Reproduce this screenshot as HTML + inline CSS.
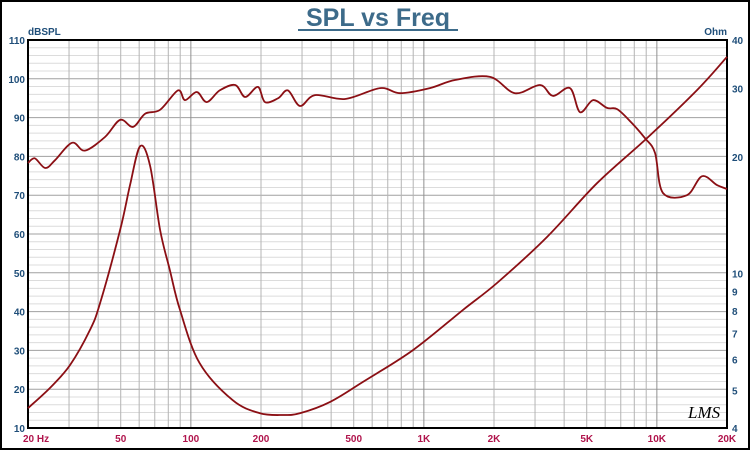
<!DOCTYPE html>
<html><head><meta charset="utf-8"><style>
html,body{margin:0;padding:0;background:#fff}
svg{display:block;font-family:"Liberation Sans",Arial,sans-serif}
</style></head><body>
<svg id="chart" width="750" height="450" viewBox="0 0 750 450">
<rect x="1" y="1" width="748" height="448" fill="#fff" stroke="#000" stroke-width="2"/>
<text x="378" y="26" text-anchor="middle" font-size="25" font-weight="bold" fill="#3d6b8a">SPL vs Freq</text>
<line x1="298" y1="30" x2="458" y2="30" stroke="#3d6b8a" stroke-width="2"/>
<text x="28" y="35" font-size="10" font-weight="bold" fill="#1f4e79">dBSPL</text>
<text x="727" y="35" text-anchor="end" font-size="10" font-weight="bold" fill="#1f4e79">Ohm</text>
<g id="grid"></g>
<g id="marks"></g>
<g id="labels"></g>
<text x="688" y="418" font-size="17" font-style="italic" fill="#000" font-family="'Liberation Serif',serif">LMS</text>
</svg>
<script>
const splFreq=[20,21.4,23.7,26.1,30.9,35.1,42.8,49.7,56.5,63.6,73.8,88,94.4,106,117,133,155,171,194,208,237,261,294,341,459,649,790,1062,1361,1922,2462,3150,3580,4240,4680,5320,6110,6750,7670,8890,9820,10620,13460,15630,18110,20000];
const splDb=[78.3,79.5,77,79,83.5,81.5,85,89.4,87.6,91,92,97,94.5,96.6,94,97,98.4,95.3,97.9,94,95,97,93,95.8,94.8,97.6,96.3,97.6,99.7,100.5,96.3,98.4,95.6,97.6,91.4,94.5,92.5,92.2,89.1,84.7,80.9,70.6,70,74.9,72.6,71.6];
const impFreq=[20,24.8,30.3,36.9,40.8,49.7,54.8,60.6,66.8,73.8,81.3,89.8,109,151,197,248,295,396,548,898,1472,2061,3375,5535,9073,14860,20000];
const impOhm=[4.5,5.07,5.81,7.16,8.4,12.95,16.9,21.3,19.0,12.95,10.2,8.06,5.88,4.72,4.37,4.32,4.37,4.67,5.26,6.35,8.06,9.46,12.42,17.1,22.35,29.7,36.2];
const dbTicks=[10,20,30,40,50,60,70,80,90,100,110];
const ohmTicks=[4,5,6,7,8,9,10,20,30,40];
const freqTicks=[20,50,100,200,500,1000,2000,5000,10000,20000];
const freqTickLabels=["20  Hz","50","100","200","500","1K","2K","5K","10K","20K"];
const L=28,R=727,T=40,B=428;
const NS="http://www.w3.org/2000/svg";
function xs(f){return L+(R-L)*Math.log10(f/20)/3;}
function ys(d){return B-(B-T)*(d-10)/100;}
function yo(o){return B-(B-T)*Math.log10(o/4);}
function mk(tag,attrs,parent){const e=document.createElementNS(NS,tag);for(const k in attrs)e.setAttribute(k,attrs[k]);parent.appendChild(e);return e;}
const grid=document.getElementById('grid'),marks=document.getElementById('marks'),labels=document.getElementById('labels');
for(let d=10;d<=110;d+=2){const l=mk('line',{x1:L,x2:R,y1:ys(d),y2:ys(d),stroke:d%10===0?'#a0a0a0':'#dcdcdc','stroke-width':1},grid);

}
for(let dec=10;dec<=10000;dec*=10){for(let m=1;m<10;m++){const f=dec*m;if(f<20||f>20000)continue;const l=mk('line',{x1:xs(f),x2:xs(f),y1:T,y2:B,stroke:m===1?'#909090':'#b4b4b4','stroke-width':1},grid);

}}
const fr=mk('rect',{x:L,y:T,width:R-L,height:B-T,fill:'none',stroke:'#000','stroke-width':2},grid);


function path(fa,va,yf){
  const p=fa.map((f,i)=>[xs(f),yf(va[i])]);
  let d='M'+p[0][0].toFixed(1)+','+p[0][1].toFixed(1);
  for(let i=0;i<p.length-1;i++){
    const p0=p[Math.max(0,i-1)],p1=p[i],p2=p[i+1],p3=p[Math.min(p.length-1,i+2)];
    const c1x=p1[0]+(p2[0]-p0[0])/6,c1y=p1[1]+(p2[1]-p0[1])/6;
    const c2x=p2[0]-(p3[0]-p1[0])/6,c2y=p2[1]-(p3[1]-p1[1])/6;
    d+=' C'+c1x.toFixed(1)+','+c1y.toFixed(1)+' '+c2x.toFixed(1)+','+c2y.toFixed(1)+' '+p2[0].toFixed(1)+','+p2[1].toFixed(1);
  }
  return d;
}
const p1=mk('path',{d:path(splFreq,splDb,ys),fill:'none',stroke:'#8b0f14','stroke-width':1.8,'stroke-linejoin':'round'},marks);


const p2=mk('path',{d:path(impFreq,impOhm,yo),fill:'none',stroke:'#8b0f14','stroke-width':1.8,'stroke-linejoin':'round'},marks);


dbTicks.forEach(d=>{const t=mk('text',{x:L-3,y:ys(d)+4,'text-anchor':'end','font-size':10,'font-weight':'bold',fill:'#1f4e79'},labels);t.textContent=d;

});
ohmTicks.forEach(o=>{const t=mk('text',{x:R+5,y:yo(o)+4,'font-size':10,'font-weight':'bold',fill:'#1f4e79'},labels);t.textContent=o;

});
freqTicks.forEach((f,i)=>{const t=mk('text',{x:i===0?L-5:xs(f),y:442,'text-anchor':i===0?'start':'middle','font-size':10,'font-weight':'bold',fill:'#b0144c','xml:space':'preserve'},labels);t.textContent=freqTickLabels[i];

});
</script>
</body></html>
